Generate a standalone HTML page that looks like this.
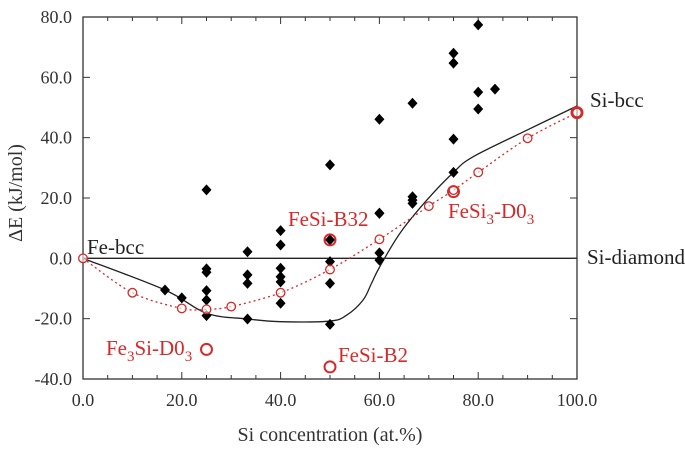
<!DOCTYPE html>
<html><head><meta charset="utf-8"><style>
html,body{margin:0;padding:0;background:#fff;}
body{position:relative;width:685px;height:450px;overflow:hidden}
svg{display:block;font-family:"Liberation Serif",serif;}
</style></head><body>
<svg id="chart" width="685" height="450" viewBox="0 0 685 450">
<g id="grid"></g>
<g id="marks"></g>
<g id="labels"></g>
</svg>
<script>
const xTicks=[0,20,40,60,80,100];
const yTicks=[80,60,40,20,0,-20,-40];
const diamondX=[16.6,20,25,25,25,25,25,25,33.3,33.3,33.3,33.3,40,40,40,40,40,40,50,50,50,50,50,60,60,60,60,60,66.7,66.7,66.7,66.7,75,75,75,75,80,80,80,83.4];
const diamondY=[-10.5,-13.1,22.7,-3.5,-4.6,-10.7,-13.8,-19,2.2,-5.5,-8.3,-20.1,9.2,4.4,-3.3,-6.1,-7.8,-14.9,31,6.1,-1.1,-8.3,-21.9,46.1,14.9,1.8,-0.6,15,51.4,20.4,19.3,18.2,68,64.7,39.5,28.5,77.4,55.1,49.5,56.1];
const circX=[0,10,20,25,30,40,50,60,70,75,80,90,100];
const circY=[0,-11.4,-16.6,-16.9,-16,-11.4,-3.7,6.3,17.3,22.6,28.5,39.8,48.3];
const bigX=[50,25,50,75,100];
const bigY=[6.1,-30.2,-36,22.1,48.3];
const curveX=[0,16.6,25,33.3,40,50,53.4,56.7,58.4,60,64.2,69.6,75,79,90,100];
const curveY=[0,-10.5,-18.2,-20.1,-21,-20.8,-18.8,-13.8,-8.3,-3,8.4,19.3,28.5,33.7,42.6,50.5];
const L=83,R=577,T=17,B=379;
const sx=v=>L+(v-0)/100*(R-L);
const sy=v=>T+(80-v)/120*(B-T);
const NS='http://www.w3.org/2000/svg';
function mk(tag,attrs,parent,txt){const e=document.createElementNS(NS,tag);for(const k in attrs)e.setAttribute(k,attrs[k]);if(txt!==undefined)e.textContent=txt;parent.appendChild(e);return e;}
const grid=document.getElementById('grid'),marks=document.getElementById('marks'),labels=document.getElementById('labels');
let f=mk('rect',{x:L,y:T,width:R-L,height:B-T,fill:'none',stroke:'#333','stroke-width':1.3},grid);


let z=mk('line',{x1:L,x2:R,y1:sy(0),y2:sy(0),stroke:'#222','stroke-width':1.3},grid);


for(let v=0;v<=100;v+=5){const maj=v%20===0;const len=maj?7:4;
 mk('line',{x1:sx(v),x2:sx(v),y1:B,y2:B-len,stroke:'#333'},grid);
 mk('line',{x1:sx(v),x2:sx(v),y1:T,y2:T+len,stroke:'#333'},grid);}
xTicks.forEach(v=>{const t=mk('text',{x:sx(v),y:406,'text-anchor':'middle','font-size':18,fill:'#333'},labels,v.toFixed(1));
 
 });
yTicks.forEach(v=>{mk('line',{x1:L,x2:L+7,y1:sy(v),y2:sy(v),stroke:'#333'},grid);
 mk('line',{x1:R,x2:R-7,y1:sy(v),y2:sy(v),stroke:'#333'},grid);
 const t=mk('text',{x:72,y:sy(v)+6,'text-anchor':'end','font-size':18,fill:'#333'},labels,v.toFixed(1));
 
 });
const P=curveX.map((x,i)=>[sx(x),sy(curveY[i])]);
function spline(P){let s='M'+P[0][0]+','+P[0][1];for(let i=0;i<P.length-1;i++){const p0=P[Math.max(i-1,0)],p1=P[i],p2=P[i+1],p3=P[Math.min(i+2,P.length-1)];const t=0.5/3;s+=' C'+(p1[0]+(p2[0]-p0[0])*t)+','+(p1[1]+(p2[1]-p0[1])*t)+' '+(p2[0]-(p3[0]-p1[0])*t)+','+(p2[1]-(p3[1]-p1[1])*t)+' '+p2[0]+','+p2[1];}return s;}
let c=mk('path',{d:spline(P),fill:'none',stroke:'#222','stroke-width':1.3},marks);


const Q=circX.map((x,i)=>[sx(x),sy(circY[i])]);
let r=mk('path',{d:spline(Q),fill:'none',stroke:'#d42a2a','stroke-width':1.3,'stroke-dasharray':'2,3'},marks);


diamondX.forEach((x,i)=>{const cx=sx(x),cy=sy(diamondY[i]);
 const p=mk('polygon',{points:`${cx},${cy-5.5} ${cx+5},${cy} ${cx},${cy+5.5} ${cx-5},${cy}`,fill:'#000'},marks);
 
 });
circX.forEach((x,i)=>{const e=mk('circle',{cx:sx(x),cy:sy(circY[i]),r:4.3,fill:'#fff','fill-opacity':0.6,stroke:'#d42a2a','stroke-width':1.3},marks);
 
 });
bigX.forEach((x,i)=>{const e=mk('circle',{cx:sx(x),cy:sy(bigY[i]),r:5.5,fill:'none',stroke:'#d42a2a','stroke-width':2},marks);
 
 });
</script>
<svg style="position:absolute;left:0;top:0" width="685" height="450">
<g font-family="Liberation Serif, serif">
<text transform="translate(22,193) rotate(-90)" text-anchor="middle" font-size="20" fill="#333">ΔE (kJ/mol)</text>
<text x="330" y="441" text-anchor="middle" font-size="20" fill="#333">Si concentration (at.%)</text>
<text x="87" y="254" font-size="21" fill="#222">Fe-bcc</text>
<text x="590" y="107" font-size="21" fill="#222">Si-bcc</text>
<text x="587" y="264" font-size="21" fill="#222">Si-diamond</text>
<text x="288" y="226" font-size="21" fill="#d42a2a">FeSi-B32</text>
<text x="106" y="355" font-size="21" fill="#d42a2a">Fe<tspan font-size="15" dy="6">3</tspan><tspan dy="-6">Si-D0</tspan><tspan font-size="15" dy="6">3</tspan></text>
<text x="338" y="362" font-size="21" fill="#d42a2a">FeSi-B2</text>
<text x="448" y="218" font-size="21" fill="#d42a2a">FeSi<tspan font-size="15" dy="6">3</tspan><tspan dy="-6">-D0</tspan><tspan font-size="15" dy="6">3</tspan></text>
</g></svg>
</body></html>
